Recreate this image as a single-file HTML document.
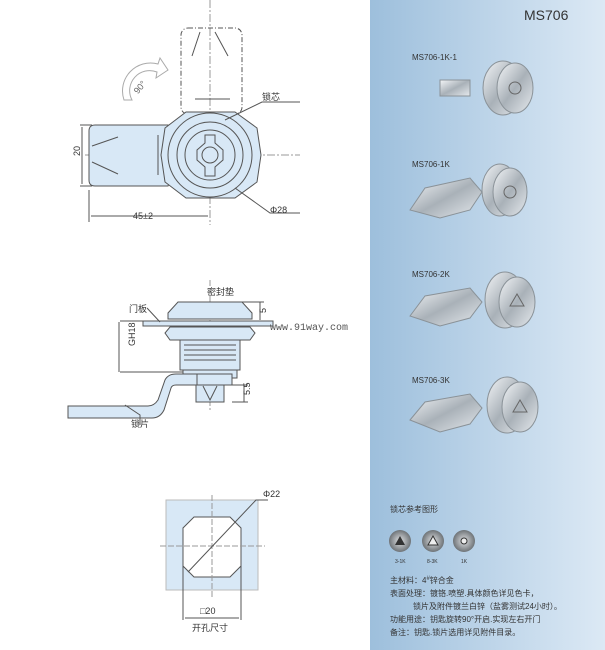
<!DOCTYPE html>
<html><head><meta charset="utf-8"><style>
body{margin:0;width:605px;height:650px;overflow:hidden;background:#fff;font-family:"Liberation Sans","Noto Sans CJK SC",sans-serif}
svg{position:absolute;left:0;top:0}
</style></head><body>
<svg width="605" height="650" viewBox="0 0 605 650" font-family="Liberation Sans, Noto Sans CJK SC, sans-serif">
<defs>
<linearGradient id="bg" x1="0" x2="1" y1="0" y2="0"><stop offset="0" stop-color="#9dbfdc"/><stop offset="1" stop-color="#dce9f5"/></linearGradient>
<linearGradient id="met" x1="0" x2="1" y1="0" y2="1"><stop offset="0" stop-color="#f4f6f8"/><stop offset="0.5" stop-color="#a9b1b8"/><stop offset="1" stop-color="#e6eaee"/></linearGradient>
<radialGradient id="btn"><stop offset="0" stop-color="#e0e2e4"/><stop offset="1" stop-color="#6e7377"/></radialGradient>
</defs>
<rect x="370" y="0" width="235" height="650" fill="url(#bg)"/>
<g stroke="#555" stroke-width="1" fill="none">
<line x1="210" y1="0" x2="210" y2="225" stroke="#999" stroke-dasharray="8,2,2,2"/>
<line x1="85" y1="155" x2="300" y2="155" stroke="#999" stroke-dasharray="8,2,2,2"/>
<rect x="181" y="28" width="61" height="86" rx="7" stroke-dasharray="5,2,1,2"/>
<path d="M200 32 L192 56 M215 32 L228 56 M195 99 L230 99"/>
<path d="M95 125 L168 125 L172 135 L172 178 L168 186 L95 186 Q89 186 89 180 L89 131 Q89 125 95 125Z" fill="#d8e8f6"/>
<path d="M92 146 L118 137 M92 162 L118 174 M158 135 L158 175"/>
<polygon points="186,112 235,112 257,128 261,155 257,182 235,198 186,198 165,182 161,155 165,128" fill="#d8e8f6"/>
<circle cx="210" cy="155" r="42" fill="#d8e8f6"/>
<circle cx="210" cy="155" r="33"/>
<circle cx="210" cy="155" r="25"/>
<path d="M205 135 L215 135 L215 143 L223 150 L223 160 L215 167 L215 176 L205 176 L205 167 L197 160 L197 150 L205 143Z"/>
<circle cx="210" cy="155" r="8"/>
<path d="M225 120 L262 102 L300 102 M235 188 L270 213 L300 213 M80 125 L92 125 M80 186 L92 186"/>
<path d="M82 127 L82 184 M89 190 L89 222 M91 216 L208 216"/>
<path d="M124 100 A28 28 0 0 1 158 64 L160 58 L168 70 L156 78 L157 72 A20 20 0 0 0 132 100 Z" stroke="#aaa" fill="#fff"/>
</g>
<g font-size="9" fill="#333">
<text x="262" y="100">锁芯</text>
<text x="270" y="213">Φ28</text>
<text x="133" y="219">45±2</text>
<text x="80" y="160" transform="rotate(-90 78 158)">20</text>
<text x="133" y="92" transform="rotate(-50 138 88)" fill="#666">90°</text>
</g>
<g stroke="#555" stroke-width="1" fill="#d8e8f6">
<line x1="210" y1="280" x2="210" y2="410" stroke="#999" stroke-dasharray="6,2" fill="none"/>
<path d="M178 302 L242 302 L252 313 L252 319 L168 319 L168 313Z"/>
<rect x="143" y="321" width="130" height="5"/>
<path d="M170 327 L250 327 L255 333 L250 340 L170 340 L165 333Z"/>
<rect x="180" y="340" width="60" height="30"/>
<path d="M184 345 L236 345 M184 350 L236 350 M184 355 L236 355 M184 360 L236 360" fill="none"/>
<rect x="183" y="370" width="54" height="8"/>
<path d="M198 374 L176 374 Q168 374 165 380 L158 400 Q154 406 148 406 L68 406 L68 418 L152 418 Q160 418 164 410 L171 388 Q172 385 176 385 L198 385Z"/>
<rect x="197" y="374" width="35" height="11"/>
<rect x="196" y="385" width="28" height="17"/>
<path d="M203 386 L210 400 L217 386" fill="none"/>
<path d="M147 308 L160 322 M182 302 L220 302 M120 321 L143 321 M120 372 L183 372 M119 322 L119 372 M242 302 L264 302 M260 302 L260 320 M232 385 L248 385 M232 402 L248 402 M244 385 L244 402 M125 405 L140 415 L140 425" fill="none"/>
</g>
<g font-size="9" fill="#333">
<text x="207" y="295">密封垫</text>
<text x="129" y="312">门板</text>
<text x="123" y="362" transform="rotate(-90 121 348)">GH18</text>
<text x="260" y="315" transform="rotate(-90 262 311)">5</text>
<text x="243" y="400" transform="rotate(-90 244 394)">5.5</text>
<text x="131" y="427">锁片</text>
</g>
<text x="270" y="330" font-family="Liberation Mono, monospace" font-size="10" fill="#555">www.91way.com</text>
<g stroke="#555" stroke-width="1">
<rect x="166" y="500" width="92" height="90" fill="#d8e8f6" stroke="#bbb"/>
<path d="M194 517 L230 517 L241 528 L241 566 L230 577 L194 577 L183 566 L183 528Z" fill="#fff"/>
<line x1="160" y1="546" x2="265" y2="546" stroke="#999" stroke-dasharray="6,2"/>
<line x1="212" y1="495" x2="212" y2="597" stroke="#999" stroke-dasharray="6,2"/>
<path d="M188 572 L256 500 L268 500 M183 566 L183 620 M241 566 L241 620 M185 618 L239 618" fill="none"/>
</g>
<g font-size="9" fill="#333">
<text x="263" y="497">Φ22</text>
<text x="200" y="614">□20</text>
<text x="192" y="631">开孔尺寸</text>
</g>
<text x="524" y="20" font-size="14" fill="#333">MS706</text>
<g font-size="8" fill="#333">
<text x="412" y="60">MS706-1K-1</text>
<text x="412" y="167">MS706-1K</text>
<text x="412" y="277">MS706-2K</text>
<text x="412" y="383">MS706-3K</text>
</g>
<g stroke="#8a9298" stroke-width="1" fill="url(#met)">
<rect x="440" y="80" width="30" height="16"/>
<ellipse cx="503" cy="88" rx="20" ry="27"/><ellipse cx="515" cy="88" rx="18" ry="25"/>
<path d="M410 210 L425 188 L470 178 L482 192 L470 210 L440 218Z"/>
<ellipse cx="500" cy="190" rx="18" ry="26"/><ellipse cx="510" cy="192" rx="17" ry="24"/>
<path d="M410 316 L425 296 L470 288 L482 302 L470 318 L440 326Z"/>
<ellipse cx="505" cy="300" rx="20" ry="28"/><ellipse cx="517" cy="302" rx="18" ry="25"/>
<path d="M410 420 L425 402 L470 394 L482 408 L470 424 L440 432Z"/>
<ellipse cx="507" cy="405" rx="20" ry="28"/><ellipse cx="520" cy="407" rx="18" ry="25"/>
</g>
<g stroke="#666" fill="none">
<circle cx="515" cy="88" r="6"/><circle cx="510" cy="192" r="6"/>
<polygon points="517,294 524,306 510,306"/><polygon points="520,400 527,412 513,412"/>
</g>
<g font-size="8" fill="#333">
<text x="390" y="512">锁芯参考图形</text>
<circle cx="400" cy="541" r="11" fill="url(#btn)"/>
<circle cx="433" cy="541" r="11" fill="url(#btn)"/>
<circle cx="464" cy="541" r="11" fill="url(#btn)"/>
<polygon points="400,536 405,545 395,545" fill="#333"/>
<polygon points="433,536 438,545 428,545" fill="#eee" stroke="#333"/>
<circle cx="464" cy="541" r="3" fill="#eee" stroke="#333"/>
<text x="395" y="563" font-size="5">3-1K</text>
<text x="427" y="563" font-size="5">8-3K</text>
<text x="461" y="563" font-size="5">1K</text>
<text x="390" y="583">主材料：4<tspan font-size="6" dy="-3">#</tspan><tspan dy="3">锌合金</tspan></text>
<text x="390" y="596">表面处理：镀铬.喷塑.具体颜色详见色卡，</text>
<text x="413" y="609">锁片及附件镀兰白锌（盐雾测试24小时）。</text>
<text x="390" y="622">功能用途：钥匙旋转90°开启.实现左右开门</text>
<text x="390" y="635">备注：钥匙.锁片选用详见附件目录。</text>
</g>
</svg>
</body></html>
